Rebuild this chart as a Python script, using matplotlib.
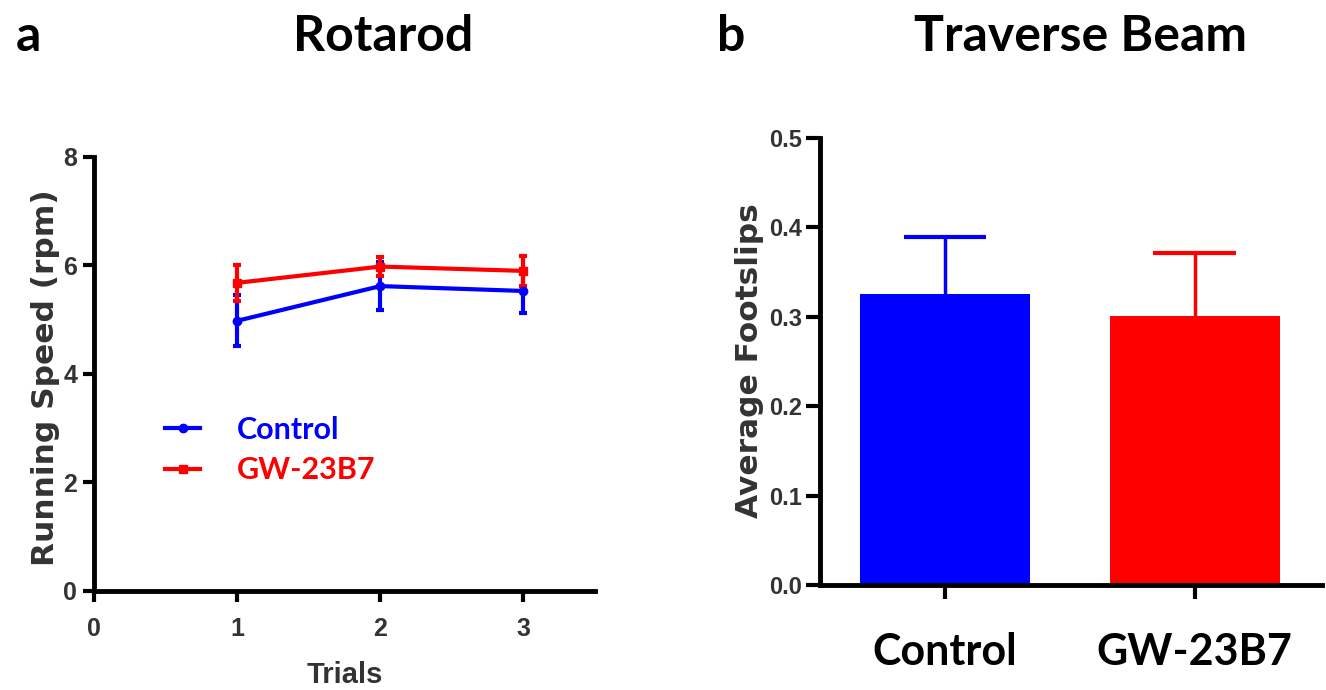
import matplotlib
matplotlib.use("Agg")
import matplotlib.pyplot as plt
from matplotlib.lines import Line2D

# ---- data ----
trials = [1, 2, 3]
control_speed = [4.98, 5.62, 5.53]
control_speed_err = [0.47, 0.44, 0.41]
gw_speed = [5.68, 5.98, 5.90]
gw_speed_err = [0.33, 0.18, 0.27]

groups = ["Control", "GW-23B7"]
footslips = [0.326, 0.301]
footslips_err = [0.063, 0.070]

speed_ticks = [0, 2, 4, 6, 8]
trial_ticks = [0, 1, 2, 3]
foot_ticks = [0.0, 0.1, 0.2, 0.3, 0.4, 0.5]

BLUE = "#0000FF"
RED = "#FF0000"
GREY = "#333333"
tickfont = ["Liberation Sans Narrow", "Liberation Sans", "DejaVu Sans"]
labfont = ["DejaVu Sans"]
boldfont = ["Lato", "Open Sans", "DejaVu Sans"]

fig = plt.figure(figsize=(13.26, 6.9), dpi=100)

# ---- panel a ----
ax1 = fig.add_axes([0.0709, 0.1435, 0.3778, 0.629])
ax1.errorbar(trials, control_speed, yerr=control_speed_err, color=BLUE, lw=3,
             marker="o", ms=6, capsize=3, capthick=3, elinewidth=3)
ax1.errorbar(trials, gw_speed, yerr=gw_speed_err, color=RED, lw=3,
             marker="s", ms=6, capsize=3, capthick=3, elinewidth=3)
ax1.set_xlim(0, 3.5)
ax1.set_ylim(0, 8)
ax1.set_xticks(trial_ticks)
ax1.set_yticks(speed_ticks)
for s in ["top", "right"]:
    ax1.spines[s].set_visible(False)
for s in ["left", "bottom"]:
    ax1.spines[s].set_linewidth(3.5)
ax1.tick_params(width=3, length=8, direction="out", labelsize=18, pad=4)
ax1.tick_params(axis="x", pad=11)
for lab in ax1.get_xticklabels() + ax1.get_yticklabels():
    lab.set_family(tickfont)
    lab.set_fontweight("bold")
    lab.set_color(GREY)
ax1.set_ylabel("Running Speed (rpm)", fontsize=22.5, color=GREY, family=labfont, fontweight="bold")
ax1.yaxis.set_label_coords(-0.096, 0.492)
ax1.yaxis.label.set_va("center")
ax1.set_xlabel("Trials", fontsize=21, color=GREY, family=tickfont, fontweight="bold", labelpad=14)
handles = [Line2D([], [], color=BLUE, lw=3, marker="o", ms=6),
           Line2D([], [], color=RED, lw=3, marker="s", ms=6)]
leg = ax1.legend(handles, groups, loc="center left", bbox_to_anchor=(0.142, 0.325),
                 frameon=False, handlelength=1.15, handletextpad=1.2, labelspacing=0.42,
                 borderpad=0, borderaxespad=0,
                 prop={"family": boldfont, "weight": "bold", "size": 22})
for t, c in zip(leg.get_texts(), [BLUE, RED]):
    t.set_color(c)

# ---- panel b ----
ax2 = fig.add_axes([0.6184, 0.152, 0.3786, 0.648])
x = list(range(len(groups)))
ax2.bar(x, footslips, width=0.68, color=[BLUE, RED], zorder=2)
for xi, v, e, c in zip(x, footslips, footslips_err, [BLUE, RED]):
    ax2.vlines(xi, v, v + e, color=c, lw=2.5, zorder=1)
    ax2.hlines(v + e, xi - 0.165, xi + 0.165, color=c, lw=3, zorder=1)
ax2.set_xlim(-0.5, 1.51)
ax2.set_ylim(0, 0.5)
ax2.set_yticks(foot_ticks)
ax2.set_yticklabels([f"{t:.1f}" for t in foot_ticks])
ax2.set_xticks(x)
ax2.set_xticklabels(groups)
for s in ["top", "right"]:
    ax2.spines[s].set_visible(False)
for s in ["left", "bottom"]:
    ax2.spines[s].set_linewidth(3.5)
ax2.tick_params(width=3, length=10, direction="out", pad=3)
for lab in ax2.get_yticklabels():
    lab.set_family(tickfont)
    lab.set_fontweight("bold")
    lab.set_fontsize(17)
    lab.set_color(GREY)
ax2.tick_params(axis="x", pad=24)
for lab in ax2.get_xticklabels():
    lab.set_family(boldfont)
    lab.set_fontweight("bold")
    lab.set_fontsize(31)
    lab.set_color("black")
ax2.set_ylabel("Average Footslips", fontsize=22.5, color=GREY, family=labfont, fontweight="bold")
ax2.yaxis.set_label_coords(-0.14, 0.501)
ax2.yaxis.label.set_va("center")

# ---- titles ----
fig.text(0.012, 0.947, "a", fontsize=36, fontweight="bold", family=boldfont, va="center")
fig.text(0.289, 0.947, "Rotarod", fontsize=36, fontweight="bold", family=boldfont, va="center", ha="center")
fig.text(0.541, 0.947, "b", fontsize=36, fontweight="bold", family=boldfont, va="center")
fig.text(0.815, 0.947, "Traverse Beam", fontsize=36, fontweight="bold", family=boldfont, va="center", ha="center")

fig.savefig("out.png", dpi=100)
